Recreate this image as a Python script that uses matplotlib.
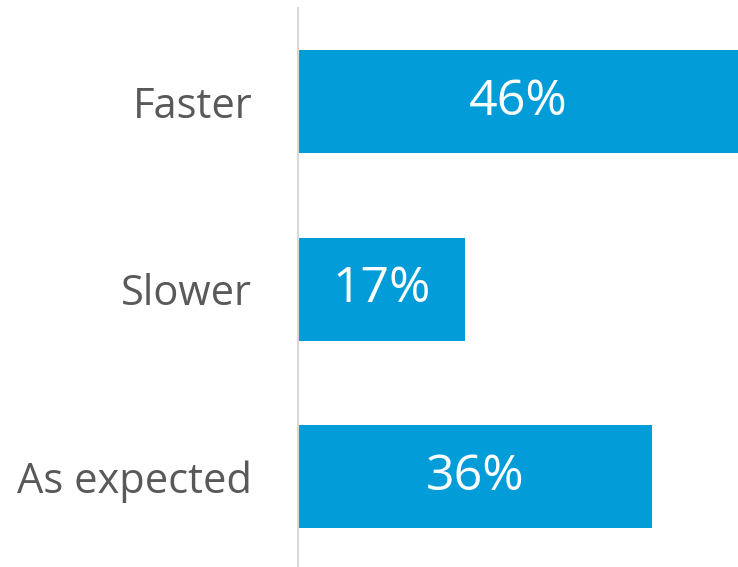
import matplotlib
matplotlib.use("Agg")
from matplotlib import pyplot as plt

categories = ["Faster", "Slower", "As expected"]
values = [46, 17, 36]
value_labels = ["46%", "17%", "36%"]

BAR_COLOR = "#029DD8"
TEXT_COLOR = "#595959"
XMAX = 44.8

plt.rcParams["font.family"] = ["Open Sans", "DejaVu Sans"]

fig = plt.figure(figsize=(7.38, 5.67), dpi=100)
# axes placed in pixel terms: left edge at x=298, top at y=8
ax = fig.add_axes([298 / 738, (567 - 570.5) / 567, 440 / 738, 562.5 / 567])

pos = list(range(len(categories)))
ax.barh(pos, values, height=0.55, color=BAR_COLOR)
ax.set_xlim(0, XMAX)
ax.set_ylim(2.5, -0.5)

for p, v, lab in zip(pos, values, value_labels):
    ax.text(min(v, XMAX) / 2, p, lab, ha="center", va="center",
            color="white", fontsize=36)

ax.set_yticks(pos)
ax.set_yticklabels(categories, fontsize=30, color=TEXT_COLOR)
ax.tick_params(axis="y", length=0, pad=33)
ax.set_xticks([])

for side in ["top", "right", "bottom"]:
    ax.spines[side].set_visible(False)
ax.spines["left"].set_color("#D9D9D9")
ax.spines["left"].set_linewidth(1.5)

fig.savefig("out.png", dpi=100)
